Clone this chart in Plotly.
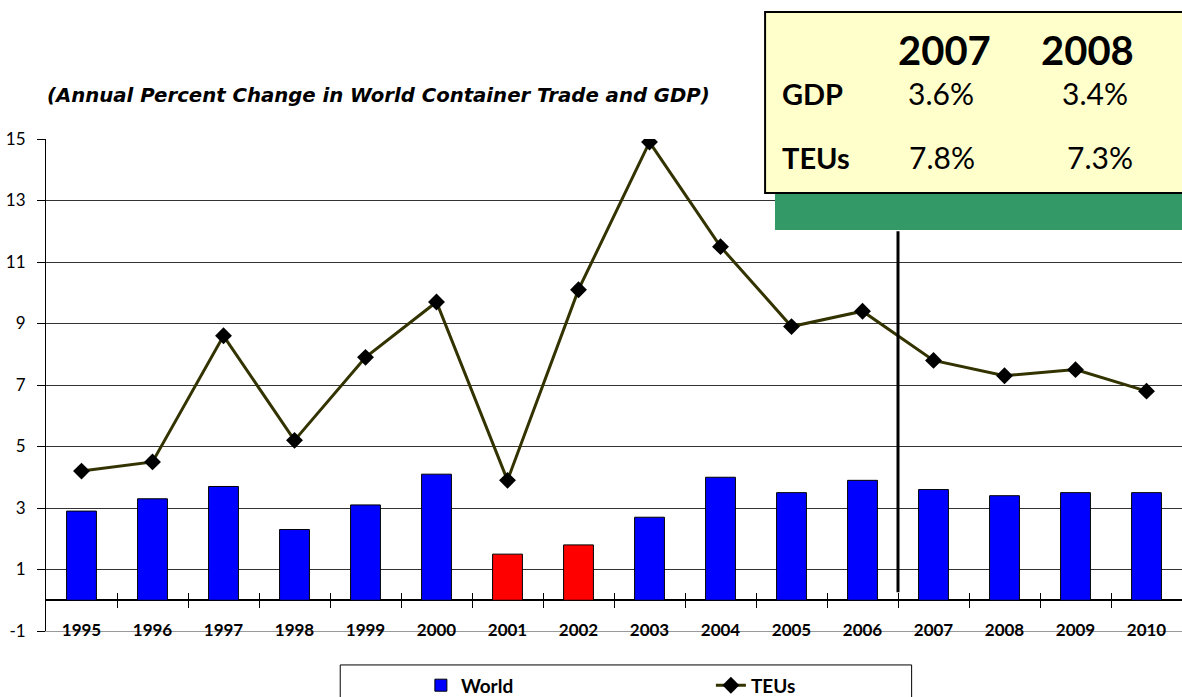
import plotly.graph_objects as go

years = ["1995", "1996", "1997", "1998", "1999", "2000", "2001", "2002",
         "2003", "2004", "2005", "2006", "2007", "2008", "2009", "2010"]
world_gdp = [2.9, 3.3, 3.7, 2.3, 3.1, 4.1, 1.5, 1.8, 2.7, 4.0, 3.5, 3.9, 3.6, 3.4, 3.5, 3.5]
teus = [4.2, 4.5, 8.6, 5.2, 7.9, 9.7, 3.9, 10.1, 14.9, 11.5, 8.9, 9.4, 7.8, 7.3, 7.5, 6.8]
recession_years = ["2001", "2002"]
y_ticks = [-1, 1, 3, 5, 7, 9, 11, 13, 15]
y_tick_labels = ["-1", "1", "3", "5", "7", "9", "11", "13", "15"]

box_head = ["2007", "2008"]
box_gdp = ["3.6%", "3.4%"]
box_teu = ["7.8%", "7.3%"]

idx = list(range(len(years)))
bar_colors = ["#ff0000" if y in recession_years else "#0000ff" for y in years]
boundaries = [i + 0.5 for i in idx]

FONT = "Lato"

fig = go.Figure()
fig.add_trace(go.Bar(
    x=idx, y=world_gdp, name="World",
    marker=dict(color=bar_colors, line=dict(color="black", width=1)),
    width=0.42,
))
fig.add_trace(go.Scatter(
    x=idx, y=teus, name="TEUs", mode="lines+markers",
    line=dict(color="#333300", width=3),
    marker=dict(symbol="diamond", size=13, color="black"),
))
# invisible helpers for the extra x axes (crossing ticks, labels)
for ax in ["x2", "x3", "x4"]:
    fig.add_trace(go.Scatter(x=idx, y=teus, xaxis=ax, mode="markers",
                             marker=dict(opacity=0), showlegend=False,
                             hoverinfo="skip"))

ypos0 = (0 - (-1)) / 16

fig.update_layout(
    width=1182, height=697,
    margin=dict(l=46, r=0, t=139, b=66),
    paper_bgcolor="white", plot_bgcolor="white",
    showlegend=True,
    xaxis=dict(range=[-0.5, 15.5], tickmode="array", tickvals=idx,
               showticklabels=False, automargin=False,
               showgrid=False, zeroline=False, showline=True, linecolor="#999999",
               linewidth=1, ticks=""),
    xaxis2=dict(range=[-0.5, 15.5], overlaying="x", anchor="free", position=ypos0,
                tickmode="array", tickvals=boundaries, ticks="outside", ticklen=7,
                tickcolor="black", tickwidth=1, showticklabels=False, automargin=False,
                showgrid=False, zeroline=False, showline=False),
    xaxis3=dict(range=[-0.5, 15.5], overlaying="x", anchor="free", position=ypos0,
                tickmode="array", tickvals=boundaries, ticks="inside", ticklen=7,
                tickcolor="black", tickwidth=1, showticklabels=False, automargin=False,
                showgrid=False, zeroline=False, showline=False),
    xaxis4=dict(range=[-0.5, 15.5], overlaying="x", anchor="free", position=0.027,
                tickmode="array", tickvals=idx, ticktext=years, ticks="",
                automargin=False, showgrid=False, zeroline=False, showline=False,
                tickfont=dict(family=FONT, size=17, color="black", weight="bold")),
    yaxis=dict(range=[-1, 15], tickmode="array", tickvals=y_ticks, ticktext=y_tick_labels,
               automargin=False,
               showgrid=True, gridcolor="#333333", gridwidth=1,
               zeroline=True, zerolinecolor="black", zerolinewidth=1.5,
               showline=True, linecolor="black", linewidth=1,
               ticks="outside", ticklen=8, tickcolor="black", ticklabelstandoff=8,
               tickfont=dict(family=FONT, size=17, color="black")),
    legend=dict(orientation="h", x=0.33, xanchor="left",
                yref="container", y=0.044, yanchor="top",
                font=dict(family=FONT, size=19, color="black", weight="bold"),
                entrywidth=245, entrywidthmode="pixels",
                bgcolor="rgba(0,0,0,0)"),
)

shapes = [
    # legend frame
    dict(type="rect", xref="paper", yref="paper", x0=0.259, x1=0.762, y0=-0.16, y1=-0.069,
         line=dict(color="black", width=1), fillcolor="rgba(0,0,0,0)", layer="above"),
    # divider between actual and forecast
    dict(type="line", xref="x", yref="y", x0=11.5, x1=11.5, y0=0.26, y1=12.0,
         line=dict(color="black", width=3), layer="above"),
    # green band
    dict(type="rect", xref="paper", yref="paper", x0=0.6417, x1=1.0, y0=0.815, y1=0.890,
         line=dict(width=0), fillcolor="#339966", layer="above"),
    # yellow box
    dict(type="rect", xref="paper", yref="paper", x0=0.633, x1=1.01, y0=0.890, y1=1.258,
         line=dict(color="black", width=2), fillcolor="#ffffcc", layer="above"),
]
fig.update_layout(shapes=shapes)

ann = []
ann.append(dict(text="<b><i>(Annual Percent Change in World Container Trade and GDP)</i></b>",
                xref="paper", yref="paper", x=-0.001, y=1.089, xanchor="left", yanchor="middle",
                showarrow=False, font=dict(family="DejaVu Sans", size=19.7, color="black")))
for xc, t in zip([0.791, 0.917], box_head):
    ann.append(dict(text=f"<b>{t}</b>", xref="paper", yref="paper", x=xc, y=1.181,
                    xanchor="center", yanchor="middle", showarrow=False,
                    font=dict(family=FONT, size=40, color="black")))
ann.append(dict(text="<b>GDP</b>", xref="paper", yref="paper", x=0.646, y=1.093,
                xanchor="left", yanchor="middle", showarrow=False,
                font=dict(family=FONT, size=29, color="black", weight=900)))
ann.append(dict(text="<b>TEUs</b>", xref="paper", yref="paper", x=0.646, y=0.963,
                xanchor="left", yanchor="middle", showarrow=False,
                font=dict(family=FONT, size=29, color="black", weight=900)))
for xc, t in zip([0.788, 0.923], box_gdp):
    ann.append(dict(text=t, xref="paper", yref="paper", x=xc, y=1.093,
                    xanchor="center", yanchor="middle", showarrow=False,
                    font=dict(family=FONT, size=30, color="black")))
for xc, t in zip([0.789, 0.928], box_teu):
    ann.append(dict(text=t, xref="paper", yref="paper", x=xc, y=0.963,
                    xanchor="center", yanchor="middle", showarrow=False,
                    font=dict(family=FONT, size=30, color="black")))
fig.update_layout(annotations=ann)

page_fix = (
    "document.documentElement.style.margin='0';"
    "document.documentElement.style.overflow='hidden';"
    "document.body.style.margin='0';"
    "document.body.style.overflow='hidden';"
    "document.body.style.height='697px';"
    "var g=document.getElementById('{plot_id}');"
    "if(g&&g.parentElement){g.parentElement.style.height='697px';"
    "g.parentElement.style.overflow='hidden';g.parentElement.style.lineHeight='0';}"
)

fig.write_html("out.html", config={"displayModeBar": False}, post_script=page_fix)
